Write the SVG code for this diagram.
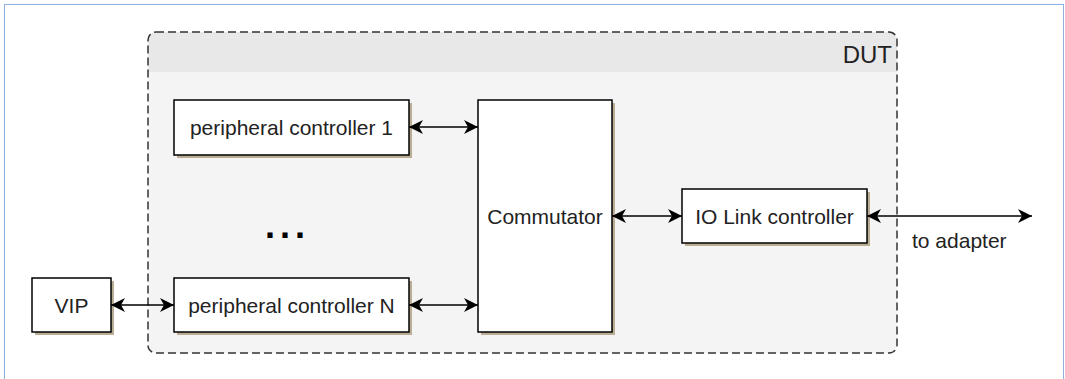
<svg xmlns="http://www.w3.org/2000/svg" width="1065" height="379" viewBox="0 0 1065 379">
<defs>
<style>
.box{fill:#fff;stroke:#000;stroke-width:1.5}
.shadow{fill:#b9ad94}
.lbl{font-family:"Liberation Sans",Arial,sans-serif;font-size:21px;fill:#222;text-anchor:middle}
.conn{stroke:#000;stroke-width:1.5;fill:none;marker-start:url(#ah);marker-end:url(#ah)}
</style>
<marker id="ah" viewBox="0 0 14 14" refX="14" refY="7" markerWidth="14" markerHeight="14" markerUnits="userSpaceOnUse" orient="auto-start-reverse">
<path d="M0,0 L14,7 L0,14 L4,7 Z" fill="#000"/>
</marker>
</defs>
<rect x="0" y="0" width="1065" height="379" fill="#fff"/>
<rect x="4.5" y="4.5" width="1059" height="420" fill="none" stroke="#8db2e2" stroke-width="1"/>
<g id="dut">
<rect x="148" y="32" width="749" height="321" rx="8" fill="#f4f4f4"/>
<path d="M148,72 V40 A8,8 0 0 1 156,32 H889 A8,8 0 0 1 897,40 V72 Z" fill="#e8e8e8"/>
<rect x="148" y="32" width="749" height="321" rx="8" fill="none" stroke="#333" stroke-width="1.5" stroke-dasharray="8 4"/>
<text x="892" y="63" font-family="'Liberation Sans',Arial,sans-serif" font-size="24" fill="#222" text-anchor="end">DUT</text>
</g>
<g id="pc1">
<rect class="shadow" x="177" y="103" width="235" height="55"/>
<rect class="box" x="174" y="100" width="235" height="55"/>
<text class="lbl" x="291.5" y="135">peripheral controller 1</text>
</g>
<g id="ellipsis">
<text x="265" y="238" font-family="'Liberation Sans',Arial,sans-serif" font-size="36" font-weight="bold" letter-spacing="5" fill="#000">...</text>
</g>
<g id="pcN">
<rect class="shadow" x="177" y="281" width="235" height="54"/>
<rect class="box" x="174" y="278" width="235" height="54"/>
<text class="lbl" x="291.5" y="313">peripheral controller N</text>
</g>
<g id="vip">
<rect class="shadow" x="35" y="281" width="79" height="54"/>
<rect class="box" x="32" y="278" width="79" height="54"/>
<text class="lbl" x="71.5" y="313">VIP</text>
</g>
<g id="commutator">
<rect class="shadow" x="481" y="103" width="134" height="232"/>
<rect class="box" x="478" y="100" width="134" height="232"/>
<text class="lbl" x="545" y="224">Commutator</text>
</g>
<g id="iolink">
<rect class="shadow" x="685" y="192" width="185" height="54"/>
<rect class="box" x="682" y="189" width="185" height="54"/>
<text class="lbl" x="774.5" y="224">IO Link controller</text>
</g>
<g id="connectors">
<line class="conn" x1="409" y1="127" x2="478" y2="127"/>
<line class="conn" x1="409" y1="305" x2="478" y2="305"/>
<line class="conn" x1="111" y1="305" x2="174" y2="305"/>
<line class="conn" x1="612" y1="216" x2="682" y2="216"/>
<line class="conn" x1="867" y1="216" x2="1032" y2="216"/>
<text x="912" y="248" font-family="'Liberation Sans',Arial,sans-serif" font-size="21" fill="#222">to adapter</text>
</g>
</svg>
